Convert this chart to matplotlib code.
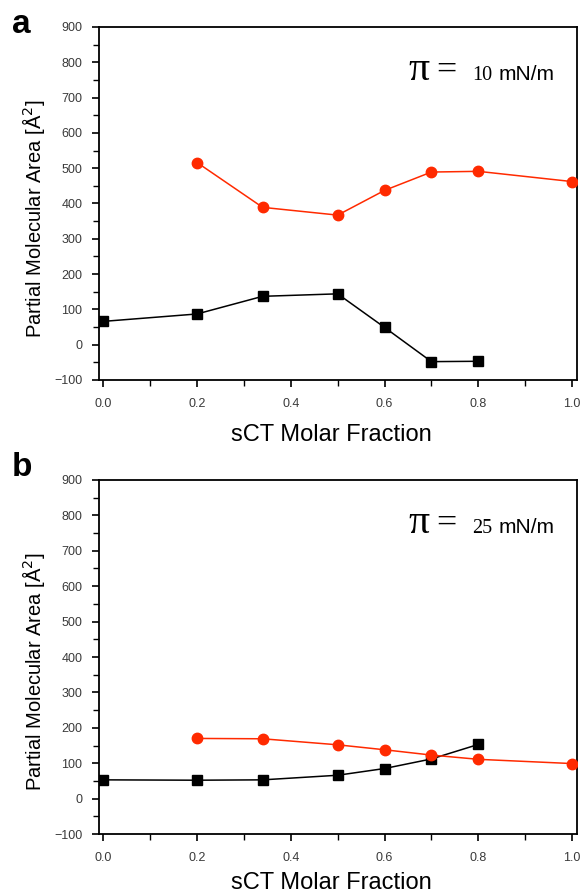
import matplotlib
matplotlib.use("Agg")
import matplotlib.pyplot as plt
from matplotlib.ticker import MultipleLocator

# Data
x_red = [0.2, 0.34, 0.5, 0.6, 0.7, 0.8, 1.0]
x_black = [0.0, 0.2, 0.34, 0.5, 0.6, 0.7, 0.8]
a_red = [516, 389, 367, 437, 489, 491, 462]
a_black = [66, 87, 137, 144, 49, -48, -47]
b_red = [170, 169, 152, 138, 123, 111, 99]
b_black = [53, 52, 53, 66, 85, 112, 153]
pressures = ["10", "25"]
panel_letters = ["a", "b"]
xticks = [0.0, 0.2, 0.4, 0.6, 0.8, 1.0]
yticks = [-100, 0, 100, 200, 300, 400, 500, 600, 700, 800, 900]

fig = plt.figure(figsize=(5.86, 8.92), dpi=100)
plt.rcParams['font.family'] = ['Liberation Sans', 'DejaVu Sans']

positions = [[0.169, 0.574, 0.816, 0.3958], [0.169, 0.065, 0.816, 0.3969]]
datasets = [(a_red, a_black), (b_red, b_black)]
letter_y = [0.963, 0.466]
xlabel_y = [-0.125, -0.106]

for i in range(2):
    ax = fig.add_axes(positions[i])
    red, black = datasets[i]
    ax.plot(x_black, black, color='black', lw=1.1, marker='s', ms=7, zorder=3)
    ax.plot(x_red, red, color='#ff2a00', lw=1.1, marker='o', ms=7.5, zorder=3)
    ax.set_xlim(-0.009, 1.011)
    ax.set_ylim(-100, 900)
    ax.set_xticks(xticks)
    ax.set_xticklabels([f"{t:.1f}" for t in xticks])
    ax.set_yticks(yticks)
    ax.xaxis.set_minor_locator(MultipleLocator(0.1))
    ax.yaxis.set_minor_locator(MultipleLocator(50))
    ax.tick_params(which='major', direction='out', length=5, width=1.2,
                   labelsize=9, labelcolor='#3a3a3a', pad=7)
    ax.tick_params(which='minor', direction='out', length=4, width=1.0)
    ax.tick_params(axis='x', which='major', pad=8)
    for s in ax.spines.values():
        s.set_linewidth(1.3)
    ax.set_xlabel("sCT Molar Fraction", fontsize=17)
    ax.xaxis.set_label_coords(0.485, xlabel_y[i])
    ax.set_ylabel("Partial Molecular Area [Å$^2$]", fontsize=14.5)
    ax.yaxis.set_label_coords(-0.108, 0.457)
    # annotation
    ax.text(0.646, 0.85, "π", transform=ax.transAxes, fontsize=30,
            family=['Liberation Serif', 'DejaVu Serif'], va='baseline', ha='left')
    ax.text(0.705, 0.85, "=", transform=ax.transAxes, fontsize=26,
            family=['Liberation Serif', 'DejaVu Serif'], va='baseline', ha='left')
    ax.text(0.780, 0.85, pressures[i], transform=ax.transAxes, fontsize=14.5,
            family=['Liberation Serif', 'DejaVu Serif'], va='baseline', ha='left')
    ax.text(0.835, 0.85, "mN/m", transform=ax.transAxes, fontsize=15,
            va='baseline', ha='left')
    fig.text(0.02, letter_y[i], panel_letters[i], fontsize=24, fontweight='bold',
             va='baseline', ha='left')

fig.savefig("out.png", dpi=100)
